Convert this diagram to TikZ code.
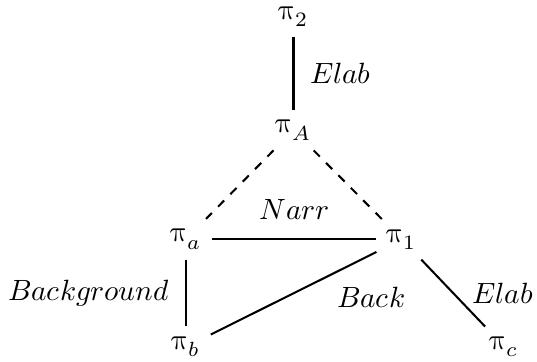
\documentclass[tikz,border=0pt]{standalone}
\usepackage{amsmath}
\usepackage{unicode-math}
\usetikzlibrary{positioning}
\newcommand{\ppi}{\symup{\pi}}
\tikzset{
  seg/.style={black,line width=0.7pt},
  segd/.style={seg,dashed},
}

\begin{document}
\begin{tikzpicture}
  \useasboundingbox (-2.23,-0.18) rectangle (4.21,4.16);
  \node (pb) at (0,0) {$\ppi_b$};
  \node (pc) at (3.82,0) {$\ppi_c$};
  \node (pa) at (0,1.29) {$\ppi_a$};
  \node (p1) at (2.59,1.29) {$\ppi_1$};
  \node (pA) at (1.29,2.60) {$\ppi_A$};
  \node (p2) at (1.29,3.96) {$\ppi_2$};
  \draw[seg] (p2) -- node[right=2pt] (elabo) {$Elab$} (pA);
  \draw[segd] (pA) -- (pa);
  \draw[segd] (pA) -- (p1);
  \draw[seg] (pa) -- node[above=3pt] (narr) {$Narr$} (p1);
  \draw[seg] (pa) -- node[left=2pt] (bgd) {$Background$} (pb);
  \draw[seg] (pb) -- node[pos=0.7,below right] (back) {$Back$} (p1);
  \draw[seg] (p1) -- node[right=3pt] (elabu) {$Elab$} (pc);
\end{tikzpicture}
\end{document}
